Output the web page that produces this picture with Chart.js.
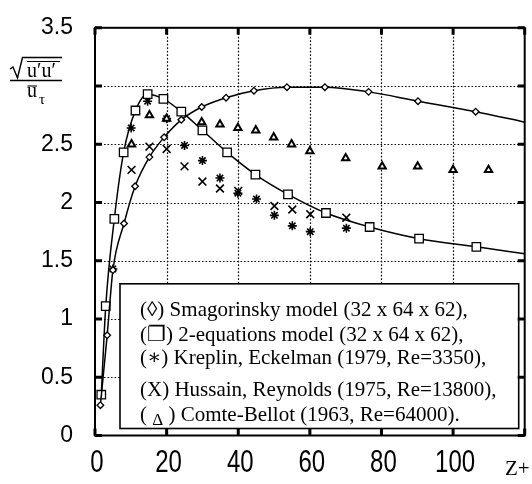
<!DOCTYPE html>
<html><head><meta charset="utf-8">
<script src="https://cdn.jsdelivr.net/npm/chart.js@4"></script>
<style>html,body{margin:0;padding:0;background:#fff}canvas{display:block}</style>
</head><body>
<canvas id="c" width="532" height="484"></canvas>
<script>
// ---- axis ticks ----
const xTicks = [0, 20, 40, 60, 80, 100, 120];
const xTickLabels = ['0', '20', '40', '60', '80', '100', ''];
const yTicks = [0, 0.5, 1, 1.5, 2, 2.5, 3, 3.5];
const yTickLabels = ['0', '0.5', '1', '1.5', '2', '2.5', '', '3.5'];

// ---- Smagorinsky model (diamonds + curve; last entry is curve only) ----
const smagZ = [1.5, 3.4, 5.0, 8.1, 11.2, 15.2, 19.3, 24.1, 29.8, 36.6, 44.4, 53.6, 64.2, 76.4, 90.2, 106.3, 120];
const smagU = [0.26, 0.86, 1.42, 1.82, 2.14, 2.39, 2.56, 2.71, 2.82, 2.90, 2.96, 2.99, 2.99, 2.95, 2.87, 2.78, 2.69];

// ---- 2-equations model (squares + curve; last entry is curve only) ----
const twoEqZ = [1.75, 3.0, 5.4, 8.0, 11.3, 14.7, 19.1, 24.1, 30.0, 36.9, 44.8, 53.9, 64.5, 76.7, 90.5, 106.5, 120];
const twoEqU = [0.35, 1.11, 1.86, 2.43, 2.79, 2.93, 2.89, 2.78, 2.62, 2.43, 2.24, 2.07, 1.91, 1.79, 1.69, 1.62, 1.56];

// ---- Kreplin, Eckelman (asterisks) ----
const kreplinZ = [5.0, 10.1, 14.7, 20.0, 25.0, 30.0, 34.9, 39.9, 45.1, 50.1, 55.1, 60.1, 70.2];
const kreplinU = [1.43, 2.64, 2.87, 2.72, 2.49, 2.36, 2.21, 2.08, 2.03, 1.89, 1.80, 1.75, 1.78];

// ---- Hussain, Reynolds (crosses) ----
const hussainZ = [10.2, 15.2, 20.0, 25.0, 30.0, 34.9, 40.0, 50.1, 55.1, 60.1, 70.2];
const hussainU = [2.28, 2.48, 2.46, 2.31, 2.18, 2.12, 2.10, 1.97, 1.94, 1.90, 1.87];

// ---- Comte-Bellot (triangles) ----
const comteZ = [10.2, 15.2, 20.0, 29.8, 34.9, 39.9, 44.9, 49.9, 54.9, 60.0, 70.0, 80.2, 90.1, 100.0, 109.9];
const comteU = [2.50, 2.75, 2.72, 2.69, 2.67, 2.64, 2.62, 2.56, 2.50, 2.44, 2.38, 2.31, 2.31, 2.28, 2.28];

const legendLines = [
  '(\u25CA) Smagorinsky model (32 x 64 x 62),',
  '(\u2750) 2-equations model (32 x 64 x 62),',
  '(\u2217) Kreplin, Eckelman (1979, Re=3350),',
  '(X) Hussain, Reynolds (1975, Re=13800),',
  ['( ', '\u0394', ' ) Comte-Bellot (1963, Re=64000).']
];
const xTitle = 'Z+';

const pts = (xs, ys) => xs.map((v, i) => ({x: v, y: ys[i]}));

const extras = {
  id: 'extras',
  beforeDatasetsDraw(chart) {
    // dotted grid, drawn as short solid stroke segments
    const ctx = chart.ctx, a = chart.chartArea, sx = chart.scales.x, sy = chart.scales.y;
    ctx.save();
    ctx.strokeStyle = '#111';
    ctx.lineWidth = 1.2;
    ctx.lineCap = 'butt';
    ctx.beginPath();
    xTicks.forEach(v => {
      if (v === 0 || v === 120) return;
      const px = Math.round(sx.getPixelForValue(v)) + 0.5;
      for (let yy = a.top + 2; yy < a.bottom - 1; yy += 3.5) {
        ctx.moveTo(px, yy); ctx.lineTo(px, yy + 1.6);
      }
    });
    yTicks.forEach(v => {
      if (v === 0 || v === 3.5) return;
      const py = Math.round(sy.getPixelForValue(v)) + 0.5;
      for (let xx = a.left + 2; xx < a.right - 1; xx += 3.5) {
        ctx.moveTo(xx, py); ctx.lineTo(xx + 1.6, py);
      }
    });
    ctx.stroke();
    ctx.restore();
  },
  afterDatasetsDraw(chart) {
    const ctx = chart.ctx, a = chart.chartArea, sx = chart.scales.x, sy = chart.scales.y;
    ctx.save();
    // legend box
    const L = a.left + 25, T = a.top + 256, R = a.right - 6, B = a.bottom - 7;
    ctx.fillStyle = '#fff';
    ctx.fillRect(L, T, R - L, B - T);
    ctx.strokeStyle = '#000';
    ctx.lineWidth = 1.6;
    ctx.strokeRect(L, T, R - L, B - T);
    ctx.fillStyle = '#000';
    ctx.font = '21px "Liberation Serif", "DejaVu Serif", serif';
    ctx.textBaseline = 'alphabetic';
    const baselines = [T + 32.5, T + 57, T + 80, T + 112, T + 137];
    legendLines.forEach((ln, i) => {
      let px = L + 20;
      if (Array.isArray(ln)) {
        ctx.fillText(ln[0], px, baselines[i]);
        px += ctx.measureText(ln[0]).width;
        ctx.save();
        ctx.font = '17px "Liberation Serif", "DejaVu Serif", serif';
        ctx.fillText(ln[1], px, baselines[i] + 4);
        px += ctx.measureText(ln[1]).width;
        ctx.restore();
        ctx.fillText(ln[2], px, baselines[i]);
      } else {
        ctx.fillText(ln, px, baselines[i]);
      }
    });
    // frame
    ctx.lineWidth = 2;
    ctx.strokeRect(a.left, a.top, a.right - a.left, a.bottom - a.top);
    // inward ticks
    ctx.lineWidth = 3;
    ctx.lineCap = 'butt';
    ctx.beginPath();
    yTicks.forEach(v => {
      const py = sy.getPixelForValue(v);
      ctx.moveTo(a.left, py); ctx.lineTo(a.left + 7, py);
      ctx.moveTo(a.right, py); ctx.lineTo(a.right - 7, py);
    });
    xTicks.forEach(v => {
      const px = sx.getPixelForValue(v);
      ctx.moveTo(px, a.top); ctx.lineTo(px, a.top + 7);
      ctx.moveTo(px, a.bottom); ctx.lineTo(px, a.bottom - 7);
    });
    ctx.stroke();
    ctx.restore();
  },
  afterDraw(chart) {
    const ctx = chart.ctx, a = chart.chartArea, sx = chart.scales.x;
    ctx.save();
    ctx.strokeStyle = '#000';
    ctx.fillStyle = '#000';
    // x tick labels (tall, condensed look)
    ctx.font = '24px "Liberation Sans", Arial, sans-serif';
    ctx.textAlign = 'center';
    ctx.textBaseline = 'middle';
    xTicks.forEach((v, i) => {
      if (!xTickLabels[i]) return;
      ctx.save();
      ctx.translate(sx.getPixelForValue(v) + 2, a.bottom + 28.5);
      ctx.scale(1, 1.28);
      ctx.fillText(xTickLabels[i], 0, 0);
      ctx.restore();
    });
    ctx.textAlign = 'left';
    ctx.textBaseline = 'alphabetic';
    // y title: sqrt(u'u') / u_tau
    ctx.lineWidth = 1.4;
    ctx.beginPath();
    ctx.moveTo(10, 69); ctx.lineTo(13, 67); ctx.lineTo(17.5, 78); ctx.lineTo(22.5, 57.5); ctx.lineTo(62, 57.5);
    ctx.stroke();
    ctx.lineWidth = 1.1;
    ctx.beginPath();
    ctx.moveTo(27, 61.5); ctx.lineTo(60, 61.5);
    ctx.stroke();
    ctx.font = '20px "Liberation Serif", "DejaVu Serif", serif';
    ctx.fillText('u\u2032u\u2032', 27, 77);
    ctx.lineWidth = 1.4;
    ctx.beginPath();
    ctx.moveTo(10, 80.5); ctx.lineTo(62, 80.5);
    ctx.stroke();
    ctx.fillText('u', 27, 97);
    ctx.lineWidth = 1.1;
    ctx.beginPath();
    ctx.moveTo(27.5, 86); ctx.lineTo(37, 86);
    ctx.stroke();
    ctx.font = '15px "Liberation Serif", "DejaVu Serif", serif';
    ctx.fillText('\u03C4', 39, 104);
    // x title
    ctx.font = '21px "Liberation Serif", "DejaVu Serif", serif';
    ctx.fillText(xTitle, 505, 475);
    ctx.restore();
  }
};

new Chart(document.getElementById('c'), {
  type: 'scatter',
  data: {
    datasets: [
      {
        data: pts(smagZ, smagU), showLine: true, cubicInterpolationMode: 'monotone',
        borderColor: '#000', borderWidth: 1.5,
        pointStyle: 'rectRot', pointBackgroundColor: '#fff', pointBorderColor: '#000', pointBorderWidth: 1.3,
        pointRadius: c => c.dataIndex < smagZ.length - 1 ? 3.3 : 0
      },
      {
        data: pts(twoEqZ, twoEqU), showLine: true, cubicInterpolationMode: 'monotone',
        borderColor: '#000', borderWidth: 1.5,
        pointStyle: 'rect', pointBackgroundColor: '#fff', pointBorderColor: '#000', pointBorderWidth: 1.3,
        pointRadius: c => c.dataIndex < twoEqZ.length - 1 ? 6 : 0
      },
      {
        data: pts(comteZ, comteU), showLine: false,
        pointStyle: 'triangle', pointBackgroundColor: '#fff', pointBorderColor: '#000', pointBorderWidth: 2,
        pointRadius: 4.2
      },
      {
        data: pts(hussainZ, hussainU), showLine: false,
        pointStyle: 'crossRot', pointBorderColor: '#000', pointBorderWidth: 1.6,
        pointRadius: 5.5
      },
      {
        data: pts(kreplinZ, kreplinU), showLine: false,
        pointStyle: 'star', pointBorderColor: '#000', pointBorderWidth: 1.6,
        pointRadius: 4.5
      }
    ]
  },
  options: {
    responsive: false,
    animation: false,
    events: [],
    layout: {padding: {left: 0, right: 1, top: 17, bottom: 0}},
    plugins: {legend: {display: false}, tooltip: {enabled: false}},
    scales: {
      x: {
        type: 'linear', min: 0, max: 120,
        afterBuildTicks: s => { s.ticks = xTicks.map(v => ({value: v})); },
        afterFit: s => { s.height = 48.5; },
        ticks: {display: false},
        grid: {display: false},
        border: {display: false}
      },
      y: {
        type: 'linear', min: 0, max: 3.5,
        afterBuildTicks: s => { s.ticks = yTicks.map(v => ({value: v})); },
        afterFit: s => { s.width = 95; },
        ticks: {
          callback: (v, i) => yTickLabels[i],
          font: {family: '"Liberation Sans", Arial, sans-serif', size: 23},
          color: '#000', padding: 14, autoSkip: false
        },
        grid: {display: false},
        border: {display: false}
      }
    }
  },
  plugins: [extras]
});
</script>
</body></html>
